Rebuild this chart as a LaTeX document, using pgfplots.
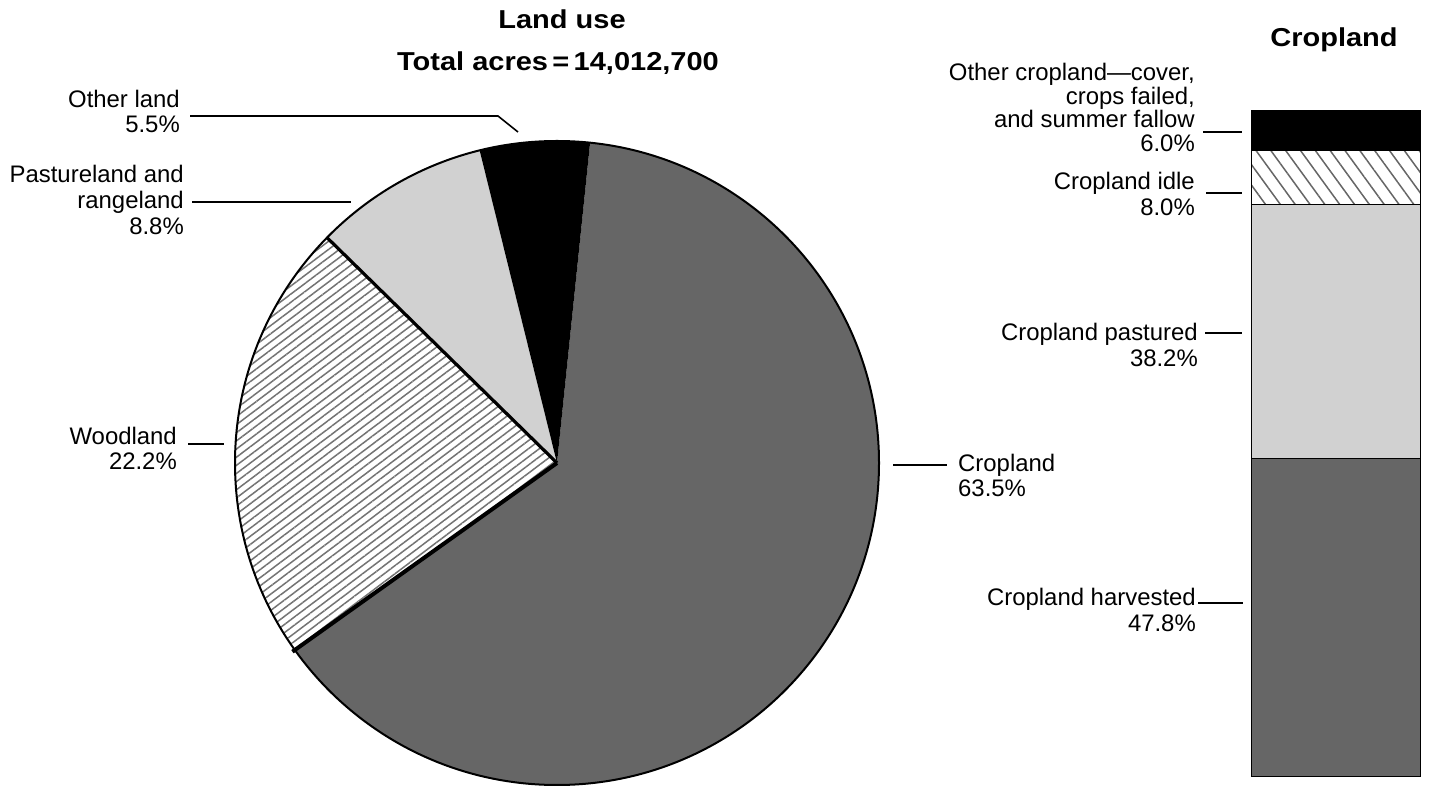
\documentclass[border=0pt]{standalone}
\usepackage{pgfplots}
\pgfplotsset{compat=1.18}
\usepackage{fontspec}
\setmainfont{Liberation Sans}
\newfontfamily\titlefont{Liberation Sans}[FakeStretch=1.12]
\usetikzlibrary{patterns.meta}
\begin{document}
\begin{tikzpicture}
\useasboundingbox (0,0) rectangle (1431bp,790bp);
% wedge angles from the shares (clockwise from 84.1 deg)
\pgfmathsetmacro\aA{84.1}
\pgfmathsetmacro\aB{\aA-3.6*63.5}
\pgfmathsetmacro\aC{\aB-3.6*22.2}
\pgfmathsetmacro\aD{\aC-3.6*8.8}
\pgfmathsetmacro\aE{\aD-3.6*5.5}
\begin{axis}[at={(557bp,327bp)}, anchor=center, scale only axis,
  width=644bp, height=644bp, xmin=-1, xmax=1, ymin=-1, ymax=1,
  hide axis, clip=false]
  % Cropland 63.5
  \fill[black!60] (axis cs:0,0) -- ++(\aA:322bp) arc[start angle=\aA, end angle=\aB, radius=322bp] -- cycle;
  % Woodland 22.2
  \fill[white] (axis cs:0,0) -- ++(\aB:322bp) arc[start angle=\aB, end angle=\aC, radius=322bp] -- cycle;
  \fill[pattern={Lines[angle=37,distance=6.5bp,line width=1.5bp]}, pattern color=black!55] (axis cs:0,0) -- ++(\aB:322bp) arc[start angle=\aB, end angle=\aC, radius=322bp] -- cycle;
  % Pastureland 8.8
  \fill[black!18] (axis cs:0,0) -- ++(\aC:322bp) arc[start angle=\aC, end angle=\aD, radius=322bp] -- cycle;
  % Other land 5.5
  \fill[black] (axis cs:0,0) -- ++(\aD:322bp) arc[start angle=\aD, end angle=\aE, radius=322bp] -- cycle;
  \draw[line width=2bp] (axis cs:0,0) circle[radius=322bp];
  \draw[line width=4bp] (axis cs:0,0) -- ++(\aB:325bp);
  \draw[line width=3.2bp] (axis cs:0,0) -- ++(\aC:322bp);
\end{axis}
\begin{axis}[at={(1251bp,14bp)}, anchor=south west, scale only axis,
  width=169bp, height=665bp, xmin=-0.5, xmax=0.5, ymin=0, ymax=100,
  hide axis, clip=false, ybar stacked, bar width=169bp]
  \addplot[fill=black!60, draw=black, line width=1bp] coordinates {(0,47.8)};
  \addplot[fill=black!18, draw=black, line width=1bp] coordinates {(0,38.2)};
  \addplot[pattern={Lines[angle=-54,distance=12bp,line width=1.5bp]}, pattern color=black!60, draw=black, line width=1bp] coordinates {(0,8.0)};
  \addplot[fill=black, draw=black, line width=1bp] coordinates {(0,6.0)};
\end{axis}
\begin{scope}[x=1bp, y=-1bp, shift={(0bp,790bp)},
  every node/.style={inner sep=0pt, font=\fontsize{24}{27}\selectfont}]
  % titles
  \node[anchor=base, font=\titlefont\bfseries\fontsize{26}{30}\selectfont] at (562,29) {Land use};
  \node[anchor=base, font=\titlefont\bfseries\fontsize{26}{30}\selectfont] at (558,71) {Total acres\,=\,14,012,700};
  \node[anchor=base, font=\titlefont\bfseries\fontsize{26}{30}\selectfont] at (1334,47) {Cropland};
  % pie labels
  \node[anchor=base east] at (180,108) {Other land};
  \node[anchor=base east] at (180,133) {5.5\%};
  \node[anchor=base east] at (184,183) {Pastureland and};
  \node[anchor=base east] at (184,209) {rangeland};
  \node[anchor=base east] at (184,235) {8.8\%};
  \node[anchor=base east] at (177,445) {Woodland};
  \node[anchor=base east] at (177,470) {22.2\%};
  \node[anchor=base west] at (958,472) {Cropland};
  \node[anchor=base west] at (958,497) {63.5\%};
  % bar labels
  \node[anchor=base east] at (1195,81) {Other cropland—cover,};
  \node[anchor=base east] at (1195,105) {crops failed,};
  \node[anchor=base east] at (1195,128) {and summer fallow};
  \node[anchor=base east] at (1195,152) {6.0\%};
  \node[anchor=base east] at (1195,190) {Cropland idle};
  \node[anchor=base east] at (1195,216) {8.0\%};
  \node[anchor=base east] at (1198,341) {Cropland pastured};
  \node[anchor=base east] at (1198,367) {38.2\%};
  \node[anchor=base east] at (1196,606) {Cropland harvested};
  \node[anchor=base east] at (1196,632) {47.8\%};
  % leader lines
  \draw[line width=1.6bp] (190,116) -- (498,116) -- (518,132);
  \draw[line width=1.6bp] (192,202) -- (351,202);
  \draw[line width=1.6bp] (188,444) -- (224,444);
  \draw[line width=1.6bp] (893,465) -- (947,465);
  \draw[line width=1.6bp] (1203,132) -- (1242,132);
  \draw[line width=1.6bp] (1206,193) -- (1242,193);
  \draw[line width=1.6bp] (1205,333) -- (1242,333);
  \draw[line width=1.6bp] (1198,603) -- (1243,603);
\end{scope}
\end{tikzpicture}
\end{document}
